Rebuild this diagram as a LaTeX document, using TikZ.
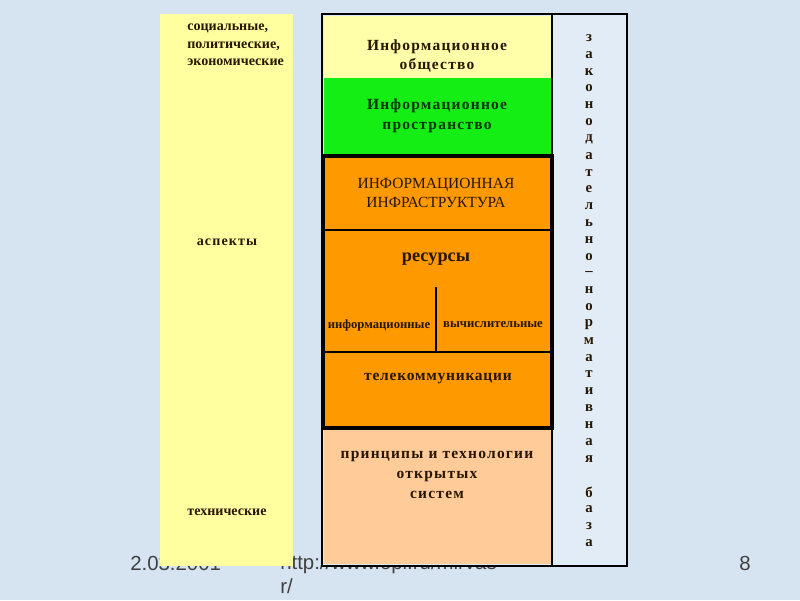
\documentclass[tikz,border=0pt]{standalone}
\usepackage{fontspec}
\setmainfont{Liberation Serif}
\newfontfamily\spacedfont[LetterSpace=8]{Liberation Serif}
\newfontfamily\tightspaced[LetterSpace=5]{Liberation Serif}
\newfontfamily\footfont{Liberation Sans}
\usetikzlibrary{fit, positioning}

\definecolor{bgblue}{RGB}{214,228,242}
\definecolor{paleyellow}{RGB}{255,255,160}
\definecolor{societyyellow}{RGB}{255,255,170}
\definecolor{spacegreen}{RGB}{20,238,20}
\definecolor{infraorange}{RGB}{255,153,0}
\definecolor{peach}{RGB}{255,204,153}
\definecolor{inkbrown}{RGB}{40,22,0}

\begin{document}
\begin{tikzpicture}[
    x=0.025cm, y=-0.025cm,
    panel/.style={inner sep=0pt, outer sep=0pt},
    frame/.style={draw=black, line width=2pt, inner sep=0pt},
    thickframe/.style={draw=black, line width=2.8pt, inner sep=0pt},
    lbl/.style={font=\bfseries\fontsize{10}{12.4}\selectfont, text=inkbrown, inner sep=0pt, align=left},
    boxtext/.style={font=\spacedfont\bfseries\fontsize{11}{14}\selectfont, text=inkbrown, inner sep=0pt, align=center},
    caps/.style={font=\fontsize{11}{13}\selectfont, text=inkbrown, inner sep=0pt, align=center},
    small/.style={font=\bfseries\fontsize{9}{10}\selectfont, text=inkbrown, inner sep=0pt},
    letter/.style={font=\bfseries\fontsize{10.5}{10}\selectfont, text=inkbrown, inner sep=0pt},
    foot/.style={font=\footfont\fontsize{14.5}{16}\selectfont, text=black!75, inner sep=0pt, anchor=base west, align=left},
    divider/.style={draw=black, line width=0.9pt},
]

% background
\fill[bgblue] (0,0) rectangle (800,600);
\useasboundingbox (0,0) rectangle (800,600);

% footer (partly hidden behind the panels)
\node[foot] (date) at (130,570) {2.03.2001};
\node[foot] (url) at (280,569) {http://www.opi.ru/mirvas};
\node[foot] (url2) at (280,593) {r/};
\node[foot] (page) at (739,570) {8};

% left column: aspects
\node[panel, fill=paleyellow, fit={(160,14)(293,566)}] (aspects) {};
\node[lbl, anchor=north west] (soc) at (187,24) {социальные,\\политические,\\экономические};
\node[lbl] (asp) at (227,242) {{\spacedfont\bfseries аспекты}};
\node[lbl] (tech) at (227,512) {технические};

% main frame
\node[frame, fill=bgblue!70!white, fit={(322,14)(627,566)}] (outer) {};

\node[panel, fill=societyyellow, fit={(324,16)(552,78)}] (society) {};
\node[boxtext] (soctext) at (437,56) {Информационное\\общество};

\node[panel, fill=spacegreen, fit={(324,78)(552,155)}] (space) {};
\node[boxtext, text=black!80!green] (spacetext) at (437,116) {Информационное\\пространство};

\node[panel, fill=peach, fit={(324,428)(552,564)}] (open) {};
\node[boxtext] (opentext) at (437,475) {принципы и технологии\\открытых\\систем};

% infrastructure block
\node[thickframe, fill=infraorange, fit={(323,156)(552,428)}] (infra) {};
\draw[divider] (infra.west |- 0,230) -- (infra.east |- 0,230);
\draw[divider] (infra.west |- 0,352) -- (infra.east |- 0,352);
\draw[divider, line width=1.5pt] (436,287) -- (436,352);

\node[caps] (infratext) at (436,193) {ИНФОРМАЦИОННАЯ\\ИНФРАСТРУКТУРА};
\node[font=\bfseries\fontsize{13}{14}\selectfont, text=inkbrown, inner sep=0pt] (res) at (436,259) {ресурсы};
\node[small] (inform) at (379,325) {информационные};
\node[small] (comp) at (493,325) {вычислительные};
\node[boxtext, font=\tightspaced\bfseries\fontsize{11}{14}\selectfont] (tele) at (438,379) {телекоммуникации};

% legal base column
\draw[frame] (outer.north -| society.east) -- (outer.south -| society.east);
\foreach \ch [count=\i] in {з,а,к,о,н,о,д,а,т,е,л,ь,н,о,–,н,о,р,м,а,т,и,в,н,а,я,{},б,а,з,а}
  \node[letter] (law\i) at (589,{38+(\i-1)*16.83}) {\ch};

\end{tikzpicture}
\end{document}
